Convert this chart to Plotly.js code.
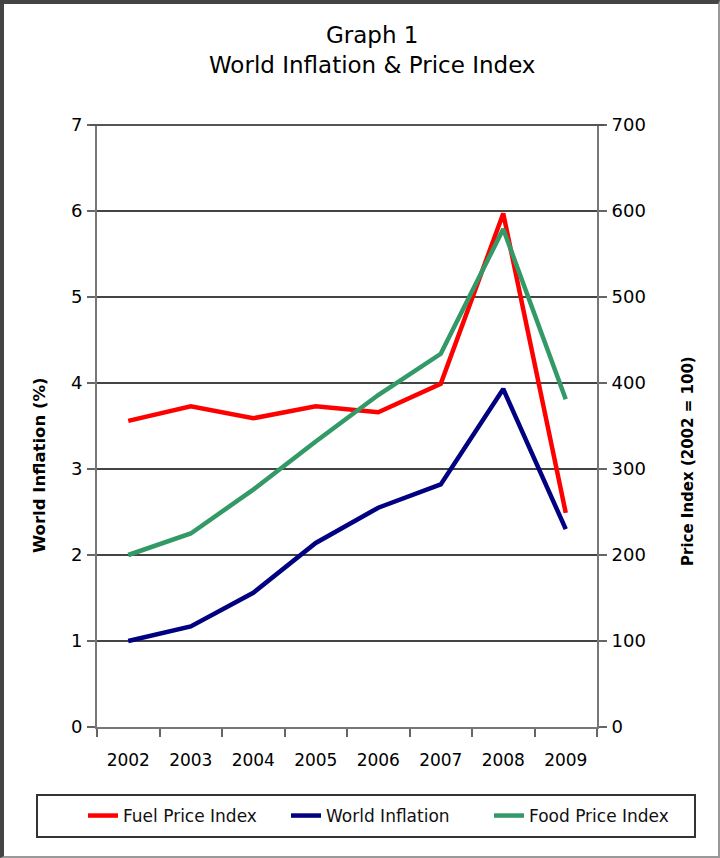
<!DOCTYPE html>
<html>
<head>
<meta charset="utf-8">
<script src="https://cdn.plot.ly/plotly-3.0.1.min.js"></script>
<style>
html,body{margin:0;padding:0;background:#fff;}
#wrap{position:relative;width:720px;height:858px;}
#chart{width:720px;height:858px;}
#frame{position:absolute;left:0;top:0;width:720px;height:858px;box-sizing:border-box;border-top:4px solid #444;border-left:4px solid #444;border-right:2px solid #999;border-bottom:2px solid #999;pointer-events:none;}
</style>
</head>
<body>
<div id="wrap"><div id="chart"></div><div id="frame"></div></div>
<script>
const years = ["2002","2003","2004","2005","2006","2007","2008","2009"];
const fuelPriceIndex = [356, 373, 359, 373, 366, 399, 597, 249];
const worldInflation = [1.00, 1.17, 1.56, 2.14, 2.55, 2.82, 3.93, 2.30];
const foodPriceIndex = [200, 225, 276, 332, 386, 434, 579, 381];
const leftTicks = [0,1,2,3,4,5,6,7];
const rightTicks = [0,100,200,300,400,500,600,700];

const FONT = "DejaVu Sans, Arial, sans-serif";

const traces = [
  {x: years, y: fuelPriceIndex, name: "Fuel Price Index", type: "scatter", mode: "lines",
   yaxis: "y2", line: {color: "#ff0000", width: 4.5}},
  {x: years, y: worldInflation, name: "World Inflation", type: "scatter", mode: "lines",
   yaxis: "y", line: {color: "#000080", width: 4.5}},
  {x: years, y: foodPriceIndex, name: "Food Price Index", type: "scatter", mode: "lines",
   yaxis: "y2", line: {color: "#339966", width: 4.5}}
];

const layout = {
  width: 720, height: 858,
  margin: {l: 97, r: 123, t: 125, b: 131},
  paper_bgcolor: "#ffffff", plot_bgcolor: "#ffffff",
  font: {family: FONT, color: "#000"},
  title: {text: "Graph 1<br>World Inflation & Price Index", x: 0.517, xanchor: "center",
          xref: "container", yref: "container",
          y: 1 - 43/858, yanchor: "middle", font: {size: 23, color: "#000", family: FONT}},
  showlegend: true,
  legend: {orientation: "h", x: (692-97)/500, xanchor: "right", y: (727-816)/602, yanchor: "middle",
           font: {size: 17, color: "#111", family: FONT}, entrywidth: 158, entrywidthmode: "pixels",
           bgcolor: "rgba(0,0,0,0)", borderwidth: 0, traceorder: "normal"},
  xaxis: {type: "category", categoryorder: "array", categoryarray: years, range: [-0.5, 7.5],
          tickson: "boundaries", ticks: "outside", ticklen: 8, tickwidth: 2, tickcolor: "#666",
          showline: true, linecolor: "#777", linewidth: 2, mirror: false,
          showgrid: false, zeroline: false, ticklabelstandoff: 17,
          tickfont: {size: 17, color: "#000", family: FONT}, fixedrange: true},
  yaxis: {range: [0, 7], tickmode: "array", tickvals: leftTicks, ticktext: leftTicks.map(String),
          ticks: "outside", ticklen: 8, tickwidth: 2, tickcolor: "#666",
          showline: true, linecolor: "#777", linewidth: 2,
          showgrid: true, gridcolor: "#444", gridwidth: 1.5, zeroline: false,
          ticklabelstandoff: 1,
          tickfont: {size: 18, color: "#000", family: FONT}},
  yaxis2: {range: [0, 700], overlaying: "y", side: "right", tickmode: "array", tickvals: rightTicks,
           ticktext: rightTicks.map(String),
           ticks: "outside", ticklen: 8, tickwidth: 2, tickcolor: "#666",
           showline: true, linecolor: "#777", linewidth: 2,
           showgrid: false, zeroline: false, ticklabelstandoff: 1,
           tickfont: {size: 18, color: "#000", family: FONT}},
  annotations: [
    {text: "<b>World Inflation (%)</b>", xref: "paper", yref: "paper",
     x: (40-97)/500, y: (727-465)/602, xanchor: "center", yanchor: "middle", textangle: -90,
     showarrow: false, font: {size: 16.5, color: "#000", family: FONT}},
    {text: "<b>Price Index (2002 = 100)</b>", xref: "paper", yref: "paper",
     x: (688-97)/500, y: (727-461)/602, xanchor: "center", yanchor: "middle", textangle: -90,
     showarrow: false, font: {size: 15, color: "#000", family: FONT}}
  ],
  shapes: [
    {type: "line", xref: "paper", yref: "paper", x0: -0.014, x1: 1.014, y0: 1, y1: 1,
     line: {color: "#555", width: 2}},
    {type: "rect", xref: "paper", yref: "paper", x0: -0.12, x1: 1.196, y0: -0.1827, y1: -0.113,
     line: {color: "#333", width: 2}, fillcolor: "rgba(0,0,0,0)"}
  ]
};

Plotly.newPlot("chart", traces, layout, {displayModeBar: false, staticPlot: true});
</script>
</body>
</html>
